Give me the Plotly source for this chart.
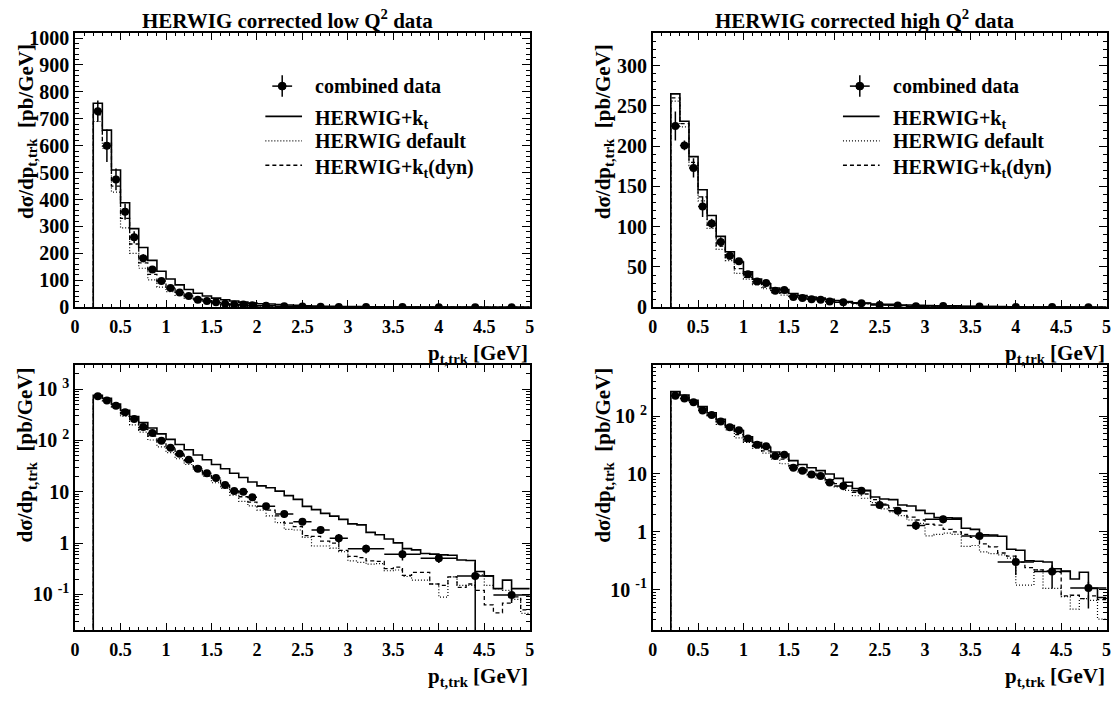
import plotly.graph_objects as go

# ---- data -------------------------------------------------------------
# MC histogram bin edges [GeV]
bin_edges = [0.2, 0.3, 0.4, 0.5, 0.6, 0.7, 0.8, 0.9, 1.0, 1.1, 1.2, 1.3, 1.4,
             1.5, 1.6, 1.7, 1.8, 1.9, 2.0, 2.1, 2.2, 2.3, 2.4, 2.5, 2.6, 2.7,
             2.8, 2.9, 3.0, 3.1, 3.2, 3.3, 3.4, 3.5, 3.6, 3.7, 3.8, 3.9, 4.0,
             4.1, 4.2, 4.3, 4.4, 4.5, 4.6, 4.7, 4.8, 4.9, 5.0]

# measured points (bin centres and half widths)
data_x = [0.25, 0.35, 0.45, 0.55, 0.65, 0.75, 0.85, 0.95, 1.05, 1.15, 1.25,
          1.35, 1.45, 1.55, 1.65, 1.75, 1.85, 1.95, 2.1, 2.3, 2.5, 2.7, 2.9,
          3.2, 3.6, 4.0, 4.4, 4.8]
data_xerr = [0.05] * 18 + [0.1] * 5 + [0.2] * 5

# low Q2
lowq2_data = [728, 600, 475, 355, 260, 182, 140, 98, 72, 55, 42, 28, 23,
              18.5, 13.5, 10.3, 10.0, 7.8, 5.2, 3.7, 2.6, 1.8, 1.25, 0.78,
              0.61, 0.51, 0.23, 0.098]
lowq2_err_up = [40, 60, 40, 30, 22, 15, 10, 7, 5, 4, 3, 2.5, 2, 1.5, 1.2, 1.0,
                1.0, 0.8, 0.7, 0.45, 0.35, 0.3, 0.25, 0.15, 0.15, 0.1, 0.19,
                0.03]
lowq2_err_down = [40, 60, 40, 30, 22, 15, 10, 7, 5, 4, 3, 2.5, 2, 1.5, 1.2,
                  1.0, 1.0, 0.8, 0.7, 0.45, 0.35, 0.3, 0.25, 0.15, 0.15, 0.1,
                  0.2295, 0.03]
lowq2_kt = [758, 658, 510, 388, 292, 222, 174, 134, 105, 83, 66, 52, 42, 34,
            28, 23, 19, 15.5, 13, 12, 10.3, 8.4, 7.1, 5.2, 4.5, 3.8, 3.36, 2.9,
            2.37, 2.27, 1.62, 1.46, 1.2, 1.01, 0.78, 0.74, 0.63, 0.61, 0.59,
            0.58, 0.47, 0.46, 0.28, 0.23, 0.13, 0.19, 0.13, 0.13]
lowq2_default = [690, 590, 428, 295, 200, 145, 102, 75, 58, 44, 34, 26, 20, 15,
                 11.6, 8.6, 6.5, 5.3, 4.4, 3.4, 2.5, 1.85, 1.8, 1.3, 0.88, 0.88,
                 0.8, 0.68, 0.45, 0.42, 0.39, 0.40, 0.29, 0.30, 0.224, 0.19,
                 0.19, 0.16, 0.089, 0.22, 0.15, 0.15, 0.24, 0.15, 0.13, 0.12,
                 0.08, 0.043]
lowq2_ktdyn = [715, 610, 450, 330, 235, 165, 122, 90, 68, 52, 40, 30, 23, 17.5,
               13.3, 10.3, 8.0, 6.3, 5.2, 4.4, 3.4, 2.45, 2.1, 1.4, 1.35, 1.09,
               1.0, 0.72, 0.55, 0.52, 0.45, 0.44, 0.32, 0.34, 0.235, 0.27,
               0.27, 0.16, 0.15, 0.22, 0.137, 0.16, 0.12, 0.063, 0.044, 0.068,
               0.09, 0.05]

# high Q2
highq2_data = [225, 201, 173, 125, 104, 81, 64, 57, 41, 32, 30, 20.5, 21.5,
               12.8, 11.4, 9.8, 9.2, 7.1, 6.2, 5.1, 2.9, 2.3, 1.29, 1.65, 0.85,
               0.30, 0.205, 0.107]
highq2_err_up = [18, 6, 12, 13, 6, 6, 3, 3, 2.5, 2, 2, 1.5, 1.3, 1.0, 0.8, 0.7,
                 0.6, 0.8, 0.5, 0.4, 0.35, 0.3, 0.22, 0.25, 0.1, 0.09, 0.06,
                 0.03]
highq2_err_down = [18, 6, 12, 13, 6, 6, 3, 3, 2.5, 2, 2, 1.5, 1.3, 1.0, 0.8,
                   0.7, 0.6, 0.8, 0.5, 0.4, 0.35, 0.3, 0.22, 0.25, 0.1, 0.12,
                   0.1, 0.06]
highq2_kt = [265, 231, 187, 146, 114, 88, 69, 56, 44, 35, 29, 24, 22, 17, 14.6,
             12.8, 11.4, 10.0, 8.4, 7.2, 5.6, 5.2, 4.0, 3.7, 3.6, 2.9, 2.8,
             2.35, 2.07, 1.77, 1.75, 1.72, 1.15, 1.1, 0.89, 0.88, 0.84, 0.50,
             0.48, 0.316, 0.31, 0.30, 0.23, 0.21, 0.153, 0.20, 0.105, 0.073]
highq2_default = [256, 224, 176, 132, 98, 72, 58, 42, 35, 28, 23, 18, 15, 12.5,
                  10.5, 9.0, 8.5, 7.0, 6.0, 5.2, 4.2, 3.8, 3.2, 2.5, 2.2, 1.9,
                  1.6, 1.4, 0.85, 0.9, 0.95, 0.9, 0.56, 0.58, 0.45, 0.42, 0.40,
                  0.35, 0.12, 0.12, 0.22, 0.105, 0.105, 0.076, 0.046, 0.07,
                  0.065, 0.031]
highq2_ktdyn = [260, 228, 180, 137, 102, 76, 60, 48, 37, 30, 25, 20, 18, 14,
                12, 10.2, 9.5, 8.0, 6.8, 6.2, 4.8, 4.5, 3.6, 3.0, 2.6, 2.3, 1.8,
                1.6, 1.35, 1.3, 1.1, 1.0, 0.9, 0.8, 0.62, 0.55, 0.43, 0.38, 0.30,
                0.24, 0.22, 0.21, 0.20, 0.078, 0.08, 0.07, 0.078, 0.067]

log_tickvals = [0.1, 1, 10, 100, 1000]
log_ticktext = ["10 <sup>-1</sup>", "1", "10", "10 <sup>2</sup>", "10 <sup>3</sup>"]

# ---- style / geometry ---------------------------------------------------
W, H = 1120, 703
FONT = "Liberation Serif"

def px(x):
    return x / W

def py(y):
    return 1 - y / H

frame_left = {"left": 70.7, "right": 653.5}
frame_right = {"left": 529.5, "right": 1111.5}
frame_top = {"top": 28.3, "bottom": 368.0}
frame_bottom = {"top": 309.3, "bottom": 640.0}

panels = [
    # axis suffix, column, row, log?, y range
    ("", "left", "top", False, [0, 1020]),
    ("2", "right", "top", False, [0, 341]),
    ("3", "left", "bottom", True, [-1.70, 3.476]),
    ("4", "right", "bottom", True, [-1.705, 2.89]),
]

series = {
    "left": (lowq2_data, lowq2_err_up, lowq2_err_down,
             lowq2_kt, lowq2_default, lowq2_ktdyn),
    "right": (highq2_data, highq2_err_up, highq2_err_down,
              highq2_kt, highq2_default, highq2_ktdyn),
}

line_styles = [
    dict(color="black", width=1.6, dash="solid"),
    dict(color="black", width=1.2, dash="1px,2px"),
    dict(color="black", width=1.3, dash="4px,3px"),
]

fig = go.Figure(
    layout=dict(
        width=W, height=H,
        margin=dict(l=0, r=0, t=0, b=0),
        paper_bgcolor="white", plot_bgcolor="white",
        showlegend=False,
        font=dict(family=FONT, size=18, color="black", weight="bold"),
    )
)

for suffix, col, row, is_log, yrange in panels:
    xa, ya = "x" + suffix, "y" + suffix
    data, eup, edn, kt, default, ktdyn = series[col]

    # MC step histograms, starting from the floor at the first edge
    floor = 1e-3 if is_log else 0
    for vals, style in zip((kt, default, ktdyn), line_styles):
        fig.add_trace(go.Scatter(
            x=[bin_edges[0]] + bin_edges,
            y=[floor] + vals + [vals[-1]],
            mode="lines", line=dict(shape="hv", **style),
            xaxis=xa, yaxis=ya, hoverinfo="skip",
        ))

    # measured points
    fig.add_trace(go.Scatter(
        x=data_x, y=data, mode="markers",
        marker=dict(color="black", size=8),
        error_y=dict(type="data", array=eup, arrayminus=edn, symmetric=False,
                     width=0, thickness=1.5, color="black"),
        error_x=dict(type="data", array=data_xerr, width=0, thickness=1.5,
                     color="black"),
        xaxis=xa, yaxis=ya,
    ))

    x0 = frame_left[col]
    x1 = frame_right[col]
    y_top = frame_top[row]
    y_bot = frame_bottom[row]
    xaxis = dict(
        domain=[px(x0), px(x1)], anchor=ya, range=[0, 5],
        tickmode="linear", tick0=0, dtick=0.5,
        ticks="inside", ticklen=8, tickwidth=1.2, tickcolor="black",
        minor=dict(dtick=0.1, ticks="inside", ticklen=4, tickcolor="black"),
        showline=True, linecolor="black", linewidth=1.5, mirror="allticks",
        showgrid=False, zeroline=False,
        tickfont=dict(size=18, family=FONT, weight="bold"), ticklabelstandoff=2,
    )
    yaxis = dict(
        domain=[py(y_bot), py(y_top)], anchor=xa, range=yrange,
        ticks="inside", ticklen=8, tickwidth=1.2, tickcolor="black",
        showline=True, linecolor="black", linewidth=1.5, mirror="allticks",
        showgrid=False, zeroline=False,
        tickfont=dict(size=20, family=FONT, weight="bold"),
    )
    if is_log:
        yaxis.update(type="log", tickmode="array", tickvals=log_tickvals,
                     ticktext=log_ticktext,
                     minor=dict(dtick="D1", ticks="inside", ticklen=4,
                                tickcolor="black"))
    else:
        step = 100 if col == "left" else 50
        yaxis.update(tickmode="linear", tick0=0, dtick=step,
                     minor=dict(dtick=step / 5, ticks="inside", ticklen=4,
                                tickcolor="black"))
    fig.update_layout({"xaxis" + suffix: xaxis, "yaxis" + suffix: yaxis})

    # axis titles
    fig.add_annotation(
        xref="paper", yref="paper", x=px(x1), y=py(y_bot + 48),
        xanchor="right", yanchor="middle", showarrow=False,
        text="p<sub>t,trk</sub> [GeV]",
        font=dict(size=21, family=FONT, weight="bold"),
    )
    ytitle_x = 21.5 if col == "left" else 604
    ytitle_top = 38 if row == "top" else 369
    fig.add_annotation(
        xref="paper", yref="paper", x=px(ytitle_x), y=py(ytitle_top),
        xanchor="center", yanchor="top", textangle=-90, showarrow=False,
        text="d\u03c3/dp<sub>t,trk</sub>  [pb/GeV]",
        font=dict(size=21, family=FONT, weight="bold"),
    )

# titles
titles = [("HERWIG corrected low Q<sup>2</sup> data", 285),
          ("HERWIG corrected high Q<sup>2</sup> data", 868)]
for text, xc in titles:
    fig.add_annotation(xref="paper", yref="paper", x=px(xc), y=py(15),
                       xanchor="center", yanchor="middle", showarrow=False,
                       text=text, font=dict(size=21, family=FONT, weight="bold"))

# legends in the top panels
legend_labels = ["combined data", "HERWIG+k<sub>t</sub>", "HERWIG default",
                 "HERWIG+k<sub>t</sub>(dyn)"]
legend_rows = [83, 114, 139, 164]
for col in ("left", "right"):
    fl = frame_left[col]
    mx = fl + 209
    my = legend_rows[0]
    fig.add_shape(type="line", xref="paper", yref="paper",
                  x0=px(mx - 10), x1=px(mx + 10), y0=py(my), y1=py(my),
                  line=dict(color="black", width=1.5))
    fig.add_shape(type="line", xref="paper", yref="paper",
                  x0=px(mx), x1=px(mx), y0=py(my - 11), y1=py(my + 11),
                  line=dict(color="black", width=1.5))
    fig.add_shape(type="circle", xref="paper", yref="paper",
                  x0=px(mx - 4), x1=px(mx + 4), y0=py(my - 4), y1=py(my + 4),
                  fillcolor="black", line=dict(color="black", width=1))
    for yrow, style in zip(legend_rows[1:], line_styles):
        fig.add_shape(type="line", xref="paper", yref="paper",
                      x0=px(fl + 192), x1=px(fl + 229), y0=py(yrow), y1=py(yrow),
                      line=style)
    for yrow, label in zip(legend_rows, legend_labels):
        shift = 3 if "<sub>" in label else 0
        fig.add_annotation(xref="paper", yref="paper", x=px(fl + 240),
                           y=py(yrow + shift), xanchor="left", yanchor="middle",
                           showarrow=False, text=label,
                           font=dict(size=20, family=FONT, weight="bold"))

fig.write_html(
    "out.html",
    config={"displayModeBar": False},
    post_script="document.body.style.margin='0';"
                "document.body.style.overflow='hidden';",
)
